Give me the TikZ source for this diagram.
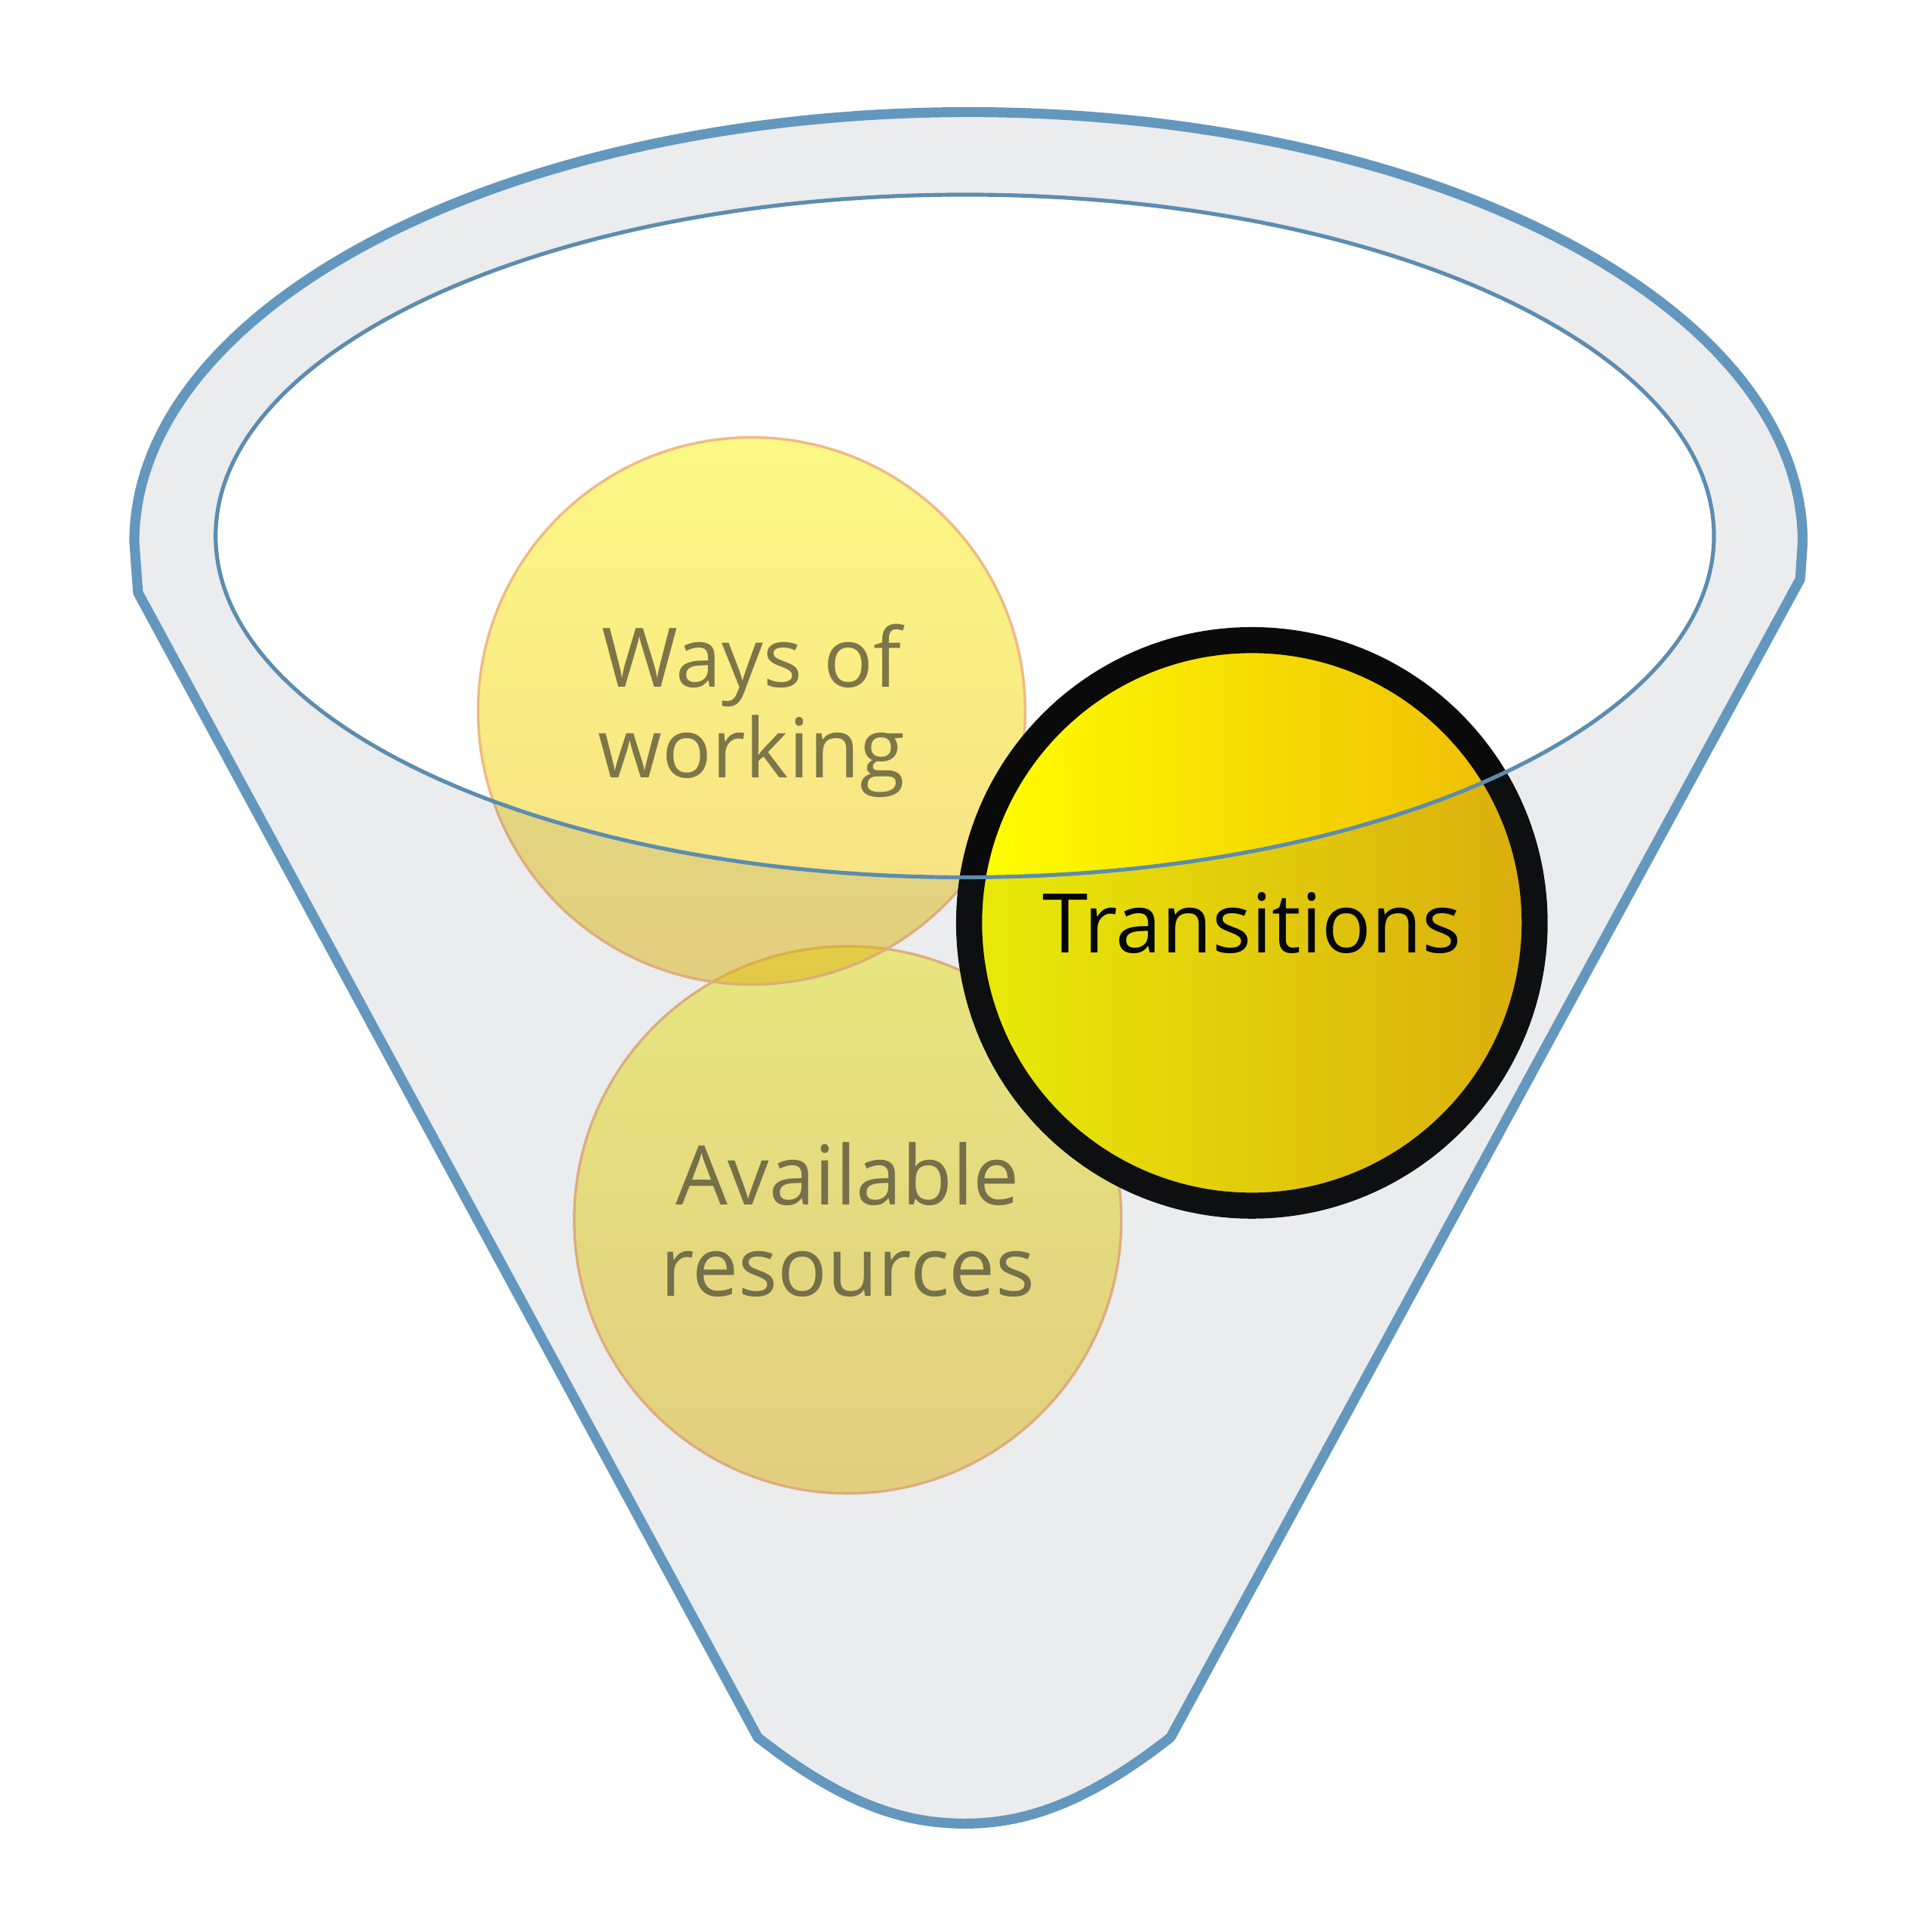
\documentclass[tikz,border=0pt]{standalone}
\usepackage{fontspec}
\setmainfont{Open Sans}
\usepackage{tikz}
\usetikzlibrary{positioning,calc}

\definecolor{rimblue}{RGB}{100,151,190}
\definecolor{mouthblue}{RGB}{92,140,176}
\definecolor{frontshade}{RGB}{45,65,85}
\definecolor{paletop}{RGB}{249,243,11}
\definecolor{palebottom}{RGB}{239,189,9}
\definecolor{paleedge}{RGB}{240,186,130}
\definecolor{paletext}{RGB}{125,118,72}
\definecolor{focusleft}{RGB}{255,255,0}
\definecolor{focusright}{RGB}{238,186,6}
\definecolor{focusring}{RGB}{10,10,10}

\newcommand{\funnelshape}{(1.12,-4.81) -- (1.09,-4.40)
    arc[start angle=180, end angle=0, x radius=6.77, y radius=3.49]
    -- (14.61,-4.70) -- (9.50,-14.10)
    .. controls (8.80,-14.65) and (8.30,-14.80) .. (7.83,-14.80)
    .. controls (7.35,-14.80) and (6.85,-14.65) .. (6.15,-14.10) -- cycle}
\newcommand{\mouthshape}{(7.83,-4.35) ellipse [x radius=6.08, y radius=2.77]}

\begin{document}
\begin{tikzpicture}[
    rimline/.style={draw=rimblue, line width=2.3pt, line join=round},
    mouthline/.style={draw=mouthblue, line width=0.9pt},
    pale/.style={circle, minimum size=4.44cm, inner sep=0pt, draw=paleedge, line width=0.6pt, top color=paletop, bottom color=palebottom, fill opacity=0.5, text opacity=1, text=paletext, align=center, font=\fontsize{19}{21}\selectfont},
    focus/.style={circle, minimum size=4.59cm, inner sep=0pt, draw=focusring, line width=6pt, left color=focusleft, right color=focusright, font=\fontsize{19}{21}\selectfont}]
    \useasboundingbox (0,0) rectangle (15.68,-15.68);

    \node[pale] (resources) at (6.88,-9.90) {Available\\resources};
    \node[pale] (ways) at (6.10,-5.77) {Ways of\\working};
    \node[focus] (transitions) at (10.16,-7.49) {Transitions};

    \fill[frontshade, fill opacity=0.1, even odd rule] \funnelshape \mouthshape;
    \draw[rimline] \funnelshape;
    \draw[mouthline] \mouthshape;
\end{tikzpicture}
\end{document}
